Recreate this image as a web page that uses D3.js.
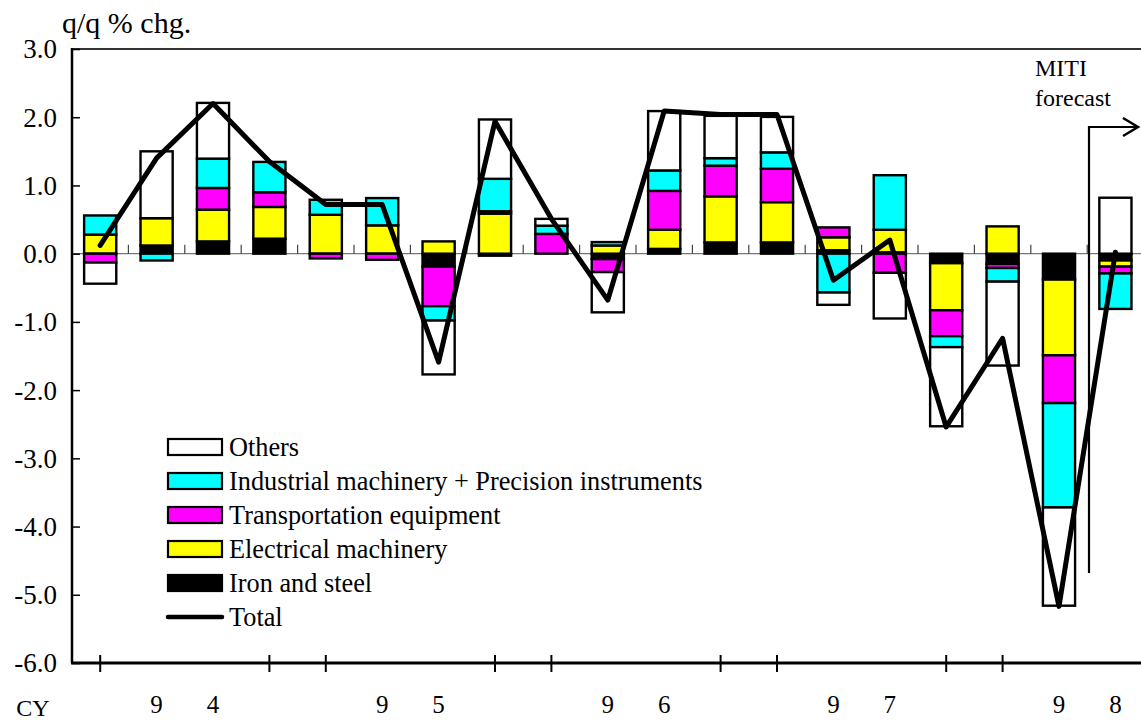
<!DOCTYPE html>
<html>
<head>
<meta charset="utf-8">
<script src="https://cdn.jsdelivr.net/npm/d3@7"></script>
<style>
  html, body { margin: 0; padding: 0; background: #fff; }
  svg { display: block; font-family: "Liberation Serif", "Times New Roman", serif; }
</style>
</head>
<body>
<svg id="chart" width="1141" height="720"></svg>
<script>
// Quarterly contributions to q/q % change in industrial production, by sector
const quarters = ["94Q1","94Q2","94Q3","94Q4","95Q1","95Q2","95Q3","95Q4","96Q1","96Q2","96Q3","96Q4",
                  "97Q1","97Q2","97Q3","97Q4","98Q1","98Q2","98Q3"];
const ironSteel  = [0, 0.12, 0.18, 0.22, 0, 0, -0.19, -0.03, 0, -0.08, 0.07, 0.165, 0.165, 0.05, 0.02, -0.14, -0.15, -0.38, -0.10];
const electrical = [0.28, 0.40, 0.465, 0.465, 0.57, 0.415, 0.18, 0.587, 0, 0.12, 0.28, 0.675, 0.59, 0.19, 0.33, -0.69, 0.40, -1.11, -0.09];
const transport  = [-0.13, 0, 0.318, 0.215, -0.07, -0.09, -0.58, 0.035, 0.29, -0.19, 0.57, 0.45, 0.49, 0.145, -0.28, -0.38, -0.06, -0.70, -0.10];
const industrial = [0.28, -0.10, 0.43, 0.445, 0.22, 0.40, -0.21, 0.475, 0.12, 0.05, 0.30, 0.11, 0.24, -0.57, 0.80, -0.16, -0.20, -1.53, -0.52];
const others     = [-0.31, 0.98, 0.817, 0, 0, 0, -0.79, 0.87, 0.10, -0.59, 0.87, 0.62, 0.52, -0.18, -0.67, -1.16, -1.23, -1.44, 0.82];
const total      = [0.12, 1.40, 2.20, 1.35, 0.72, 0.72, -1.59, 1.94, 0.51, -0.68, 2.09, 2.04, 2.04, -0.39, 0.20, -2.54, -1.24, -5.17, 0.02];

// Year digits shown under the category axis, one slot per quarter
const yearLabels = ["", "9", "4", "", "", "9", "5", "", "", "9", "6", "", "", "9", "7", "", "", "9", "8"];
// Quarters that carry a tick mark on the bottom axis
const bottomTickQuarters = ["94Q1","94Q4","95Q1","95Q4","96Q1","96Q4","97Q1","97Q4","98Q1"];
const yTicks = [3, 2, 1, 0, -1, -2, -3, -4, -5, -6];

const seriesNames = ["Iron and steel", "Electrical machinery", "Transportation equipment",
                     "Industrial machinery + Precision instruments", "Others"];
const seriesColors = ["#000000", "#ffff00", "#ff00ff", "#00ffff", "#ffffff"];
const seriesValues = [ironSteel, electrical, transport, industrial, others];

const rows = quarters.map((q, i) => {
  const r = { q };
  seriesNames.forEach((s, k) => { r[s] = seriesValues[k][i]; });
  return r;
});

const svg = d3.select("#chart");
const plotLeft = 72, plotTop = 49, plotBottom = 663;
const step = 56.4;
const plotRight = plotLeft + step * quarters.length;

const x = d3.scaleBand().domain(quarters).range([plotLeft, plotRight]).paddingInner(0.43).paddingOuter(0.215);
const y = d3.scaleLinear().domain([-6, 3]).range([plotBottom, plotTop]);
const fmt = d3.formatLocale({ decimal: ".", thousands: ",", grouping: [3], currency: ["", ""], minus: "-" }).format(".1f");

// Frame top edge
svg.append("line").attr("x1", plotLeft).attr("x2", 1141 + 5).attr("y1", y(3)).attr("y2", y(3))
  .attr("stroke", "#333").attr("stroke-width", 2);

// Zero line with quarter-boundary ticks
svg.append("line").attr("x1", plotLeft).attr("x2", 1141 + 5).attr("y1", y(0)).attr("y2", y(0))
  .attr("stroke", "#777").attr("stroke-width", 1.2);
const boundaries = quarters.slice(1).map(q => x(q) - x.step() * x.paddingInner() / 2);
svg.append("g").selectAll("line").data(boundaries).join("line")
  .attr("x1", d => d).attr("x2", d => d)
  .attr("y1", y(0) - 9).attr("y2", y(0))
  .attr("stroke", "#444").attr("stroke-width", 1.2);

// Stacked bars
const stack = d3.stack().keys(seriesNames).offset(d3.stackOffsetDiverging);
const layers = stack(rows);
const gBars = svg.append("g");
layers.forEach((layer, k) => {
  gBars.append("g").selectAll("rect")
    .data(layer.filter(d => Math.abs(d[1] - d[0]) > 1e-9))
    .join("rect")
    .attr("x", d => x(d.data.q))
    .attr("width", x.bandwidth())
    .attr("y", d => y(Math.max(d[0], d[1])))
    .attr("height", d => Math.abs(y(d[0]) - y(d[1])))
    .attr("fill", seriesColors[k])
    .attr("stroke", "#000")
    .attr("stroke-width", 2.4);
});

// Total line
const line = d3.line().x((d, i) => x(quarters[i]) + x.bandwidth() / 2).y(d => y(d));
svg.append("path").datum(total).attr("d", line)
  .attr("fill", "none").attr("stroke", "#000").attr("stroke-width", 5)
  .attr("stroke-linejoin", "round").attr("stroke-linecap", "round");

// Left axis
const yAxis = d3.axisRight(y).tickValues(yTicks).tickSize(8).tickFormat("");
const gy = svg.append("g").attr("transform", `translate(${plotLeft},0)`).call(yAxis);
gy.select(".domain").remove();
gy.selectAll(".tick line").attr("stroke", "#000").attr("stroke-width", 1.5);
svg.append("line").attr("x1", plotLeft).attr("x2", plotLeft).attr("y1", plotTop - 1).attr("y2", plotBottom)
  .attr("stroke", "#000").attr("stroke-width", 2.5);
svg.append("g").selectAll("text").data(yTicks).join("text")
  .attr("x", 57).attr("y", d => y(d)).attr("dy", "0.35em")
  .attr("text-anchor", "end").attr("font-size", 27).text(d => fmt(d));

// Bottom axis
const xAxis = d3.axisBottom(x).tickValues(bottomTickQuarters).tickSize(8).tickFormat("");
const gx = svg.append("g").attr("transform", `translate(0,${plotBottom})`).call(xAxis);
gx.select(".domain").remove();
gx.selectAll(".tick line").attr("y1", -8).attr("y2", 9).attr("stroke", "#000").attr("stroke-width", 2);
svg.append("line").attr("x1", plotLeft - 1).attr("x2", 1141 + 5).attr("y1", plotBottom).attr("y2", plotBottom)
  .attr("stroke", "#000").attr("stroke-width", 3);
svg.append("g").selectAll("text").data(quarters).join("text")
  .attr("x", d => x(d) + x.bandwidth() / 2).attr("y", 713)
  .attr("text-anchor", "middle").attr("font-size", 25)
  .text((d, i) => yearLabels[i]);
svg.append("text").attr("x", 33).attr("y", 716).attr("text-anchor", "middle")
  .attr("font-size", 24).text("CY");

// Unit label
svg.append("text").attr("x", 62).attr("y", 33).attr("font-size", 30).text("q/q % chg.");

// Forecast marker
const fx = 1089, fy = 127;
svg.append("path").attr("d", `M${fx},573 V${fy} H1138`).attr("fill", "none")
  .attr("stroke", "#000").attr("stroke-width", 2.2);
svg.append("path").attr("d", `M1123,118 L1138,${fy} L1123,136`).attr("fill", "none")
  .attr("stroke", "#000").attr("stroke-width", 2.5);
svg.append("text").attr("x", 1035).attr("y", 76).attr("font-size", 24).text("MITI");
svg.append("text").attr("x", 1035).attr("y", 106).attr("font-size", 24).text("forecast");

// Legend
const legendItems = [
  { name: "Others", color: "#ffffff" },
  { name: "Industrial machinery + Precision instruments", color: "#00ffff" },
  { name: "Transportation equipment", color: "#ff00ff" },
  { name: "Electrical machinery", color: "#ffff00" },
  { name: "Iron and steel", color: "#000000" },
  { name: "Total", color: null }
];
const lg = svg.append("g");
legendItems.forEach((it, i) => {
  const cy = 447 + i * 34;
  if (it.color) {
    lg.append("rect").attr("x", 168).attr("y", cy - 8).attr("width", 54).attr("height", 16)
      .attr("fill", it.color).attr("stroke", "#000").attr("stroke-width", 2.2);
  } else {
    lg.append("line").attr("x1", 168).attr("x2", 222).attr("y1", cy).attr("y2", cy)
      .attr("stroke", "#000").attr("stroke-width", 4.5).attr("stroke-linecap", "round");
  }
  lg.append("text").attr("x", 229).attr("y", cy).attr("dy", "0.35em")
    .attr("font-size", 26.3).text(it.name);
});
</script>
</body>
</html>
